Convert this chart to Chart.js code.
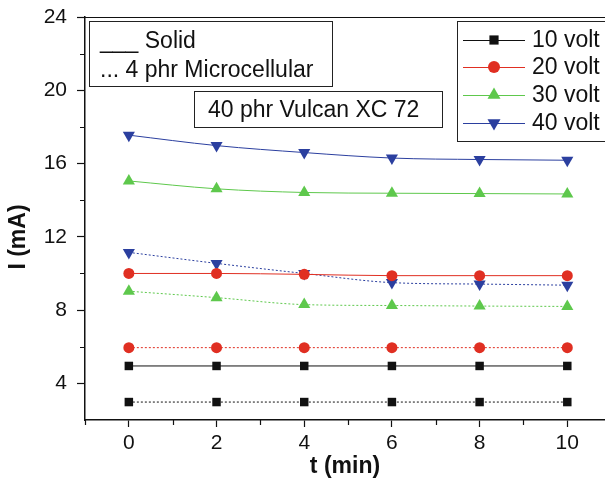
<!DOCTYPE html>
<html>
<head>
<meta charset="utf-8">
<script src="https://cdn.jsdelivr.net/npm/chart.js@4.4.0/dist/chart.umd.min.js"></script>
<style>
  html, body { margin: 0; padding: 0; background: #fff; }
  canvas { display: block; }
</style>
</head>
<body>
<canvas id="chart" width="605" height="488"></canvas>
<script>
// time points (min)
var times = [0, 2, 4, 6, 8, 10];

// solid samples
var solid10 = [4.95, 4.95, 4.95, 4.95, 4.95, 4.95];
var solid20 = [10.0, 10.0, 9.95, 9.88, 9.88, 9.88];
var solid30 = [15.05, 14.62, 14.42, 14.38, 14.36, 14.34];
var solid40 = [17.55, 16.98, 16.6, 16.3, 16.22, 16.18];

// 4 phr microcellular samples
var micro10 = [2.98, 2.98, 2.98, 2.98, 2.98, 2.98];
var micro20 = [5.95, 5.95, 5.95, 5.95, 5.95, 5.95];
var micro30 = [9.03, 8.68, 8.3, 8.25, 8.22, 8.2];
var micro40 = [11.15, 10.55, 10.0, 9.5, 9.42, 9.36];

var voltLabels = ['10 volt', '20 volt', '30 volt', '40 volt'];
var xTicks = [0, 2, 4, 6, 8, 10];
var xMinor = [-1, 1, 3, 5, 7, 9];
var yTicks = [4, 8, 12, 16, 20, 24];
var yMinor = [6, 10, 14, 18, 22];

var colors = ['#111111', '#e02f22', '#5ec84c', '#2b3f9f'];
var styles = ['rect', 'circle', 'triangle', 'triangle'];
var rotations = [0, 0, 0, 180];
var radii = [6, 5.5, 7, 7];

function pts(vals) {
  return vals.map(function (v, i) { return { x: times[i], y: v }; });
}

function makeSet(label, vals, idx, dotted) {
  return {
    label: label,
    data: pts(vals),
    borderColor: colors[idx],
    backgroundColor: colors[idx],
    borderWidth: 1,
    borderDash: dotted ? [2, 2] : [],
    pointStyle: styles[idx],
    rotation: rotations[idx],
    pointRadius: radii[idx],
    pointBorderWidth: 0,
    cubicInterpolationMode: 'monotone',
    showLine: true
  };
}

// chart.js reserves label overhang; the picture has none
function noPad(s) { s.paddingTop = 0; s.paddingBottom = 0; s.paddingLeft = 0; s.paddingRight = 0; }

var FONT = '"Liberation Sans", Arial, Helvetica, sans-serif';

var extras = {
  id: 'extras',
  afterDraw: function (chart) {
    var ctx = chart.ctx;
    var xs = chart.scales.x, ys = chart.scales.y;
    var area = chart.chartArea;
    ctx.save();
    ctx.strokeStyle = '#111';
    ctx.lineWidth = 1.2;
    // top frame
    ctx.beginPath();
    ctx.moveTo(area.left, area.top + 0.5);
    ctx.lineTo(area.right, area.top + 0.5);
    ctx.stroke();
    // minor ticks
    ctx.beginPath();
    xMinor.forEach(function (v) {
      var px = Math.round(xs.getPixelForValue(v)) + 0.5;
      ctx.moveTo(px, area.bottom);
      ctx.lineTo(px, area.bottom + 5);
    });
    yMinor.forEach(function (v) {
      var py = Math.round(ys.getPixelForValue(v)) + 0.5;
      ctx.moveTo(area.left, py);
      ctx.lineTo(area.left - 5, py);
    });
    ctx.stroke();

    // y title
    ctx.fillStyle = '#111';
    ctx.font = 'bold 23px ' + FONT;
    ctx.textAlign = 'center';
    ctx.textBaseline = 'middle';
    ctx.save();
    ctx.translate(19, 237);
    ctx.rotate(-Math.PI / 2);
    ctx.fillText('I (mA)', 0, 0);
    ctx.restore();

    // note boxes
    ctx.lineWidth = 1;
    ctx.strokeStyle = '#222';
    ctx.strokeRect(89.5, 21.5, 243, 65);
    ctx.strokeRect(194.5, 91.5, 248, 36);
    ctx.font = '23px ' + FONT;
    ctx.textAlign = 'left';
    ctx.textBaseline = 'alphabetic';
    ctx.fillText('___ Solid', 100, 48);
    ctx.fillText('... 4 phr Microcellular', 100, 77);
    ctx.fillText('40 phr Vulcan XC 72', 208, 117);

    // legend box
    ctx.strokeRect(457.5, 21.5, 160, 120);
    var rows = [40, 67, 95, 123];
    ctx.textBaseline = 'middle';
    rows.forEach(function (y, i) {
      ctx.strokeStyle = colors[i];
      ctx.lineWidth = 1;
      ctx.beginPath();
      ctx.moveTo(463, y + 0.5);
      ctx.lineTo(525, y + 0.5);
      ctx.stroke();
      ctx.fillStyle = colors[i];
      Chart.helpers.drawPoint(ctx, {
        pointStyle: styles[i],
        rotation: rotations[i],
        radius: radii[i] + 0.5,
        borderWidth: 0
      }, 494, y);
      ctx.fillStyle = '#111';
      ctx.fillText(voltLabels[i], 532, y + 1);
    });
    ctx.restore();
  }
};

var ctx = document.getElementById('chart').getContext('2d');
var myChart = new Chart(ctx, {
  type: 'scatter',
  data: {
    datasets: [
      makeSet('10 volt', solid10, 0, false),
      makeSet('10 volt micro', micro10, 0, true),
      makeSet('20 volt', solid20, 1, false),
      makeSet('20 volt micro', micro20, 1, true),
      makeSet('30 volt', solid30, 2, false),
      makeSet('30 volt micro', micro30, 2, true),
      makeSet('40 volt', solid40, 3, false),
      makeSet('40 volt micro', micro40, 3, true)
    ]
  },
  options: {
    responsive: false,
    animation: false,
    layout: { autoPadding: false, padding: { top: 17, right: 0, left: 0, bottom: 0 } },
    plugins: { legend: { display: false }, tooltip: { enabled: false } },
    scales: {
      x: {
        type: 'linear',
        min: -1,
        max: 10.86,
        afterBuildTicks: function (s) { s.ticks = xTicks.map(function (v) { return { value: v }; }); },
        afterFit: function (s) { s.height = 68; noPad(s); },
        ticks: { color: '#111', font: { family: FONT, size: 21 }, padding: 4, maxRotation: 0 },
        grid: { drawOnChartArea: false, tickLength: 7, color: '#111', tickWidth: 1.2 },
        border: { display: true, color: '#111', width: 1.5 },
        title: { display: true, text: 't (min)', color: '#111', font: { family: FONT, size: 23, weight: 'bold' }, padding: { top: 0, bottom: 8 } }
      },
      y: {
        type: 'linear',
        min: 2,
        max: 24,
        afterBuildTicks: function (s) { s.ticks = yTicks.map(function (v) { return { value: v }; }); },
        afterFit: function (s) { s.width = 85; noPad(s); },
        ticks: { color: '#111', font: { family: FONT, size: 21 }, padding: 10 },
        grid: { drawOnChartArea: false, tickLength: 8, color: '#111', tickWidth: 1.2 },
        border: { display: true, color: '#111', width: 1.5 }
      }
    }
  },
  plugins: [extras]
});
</script>
</body>
</html>
